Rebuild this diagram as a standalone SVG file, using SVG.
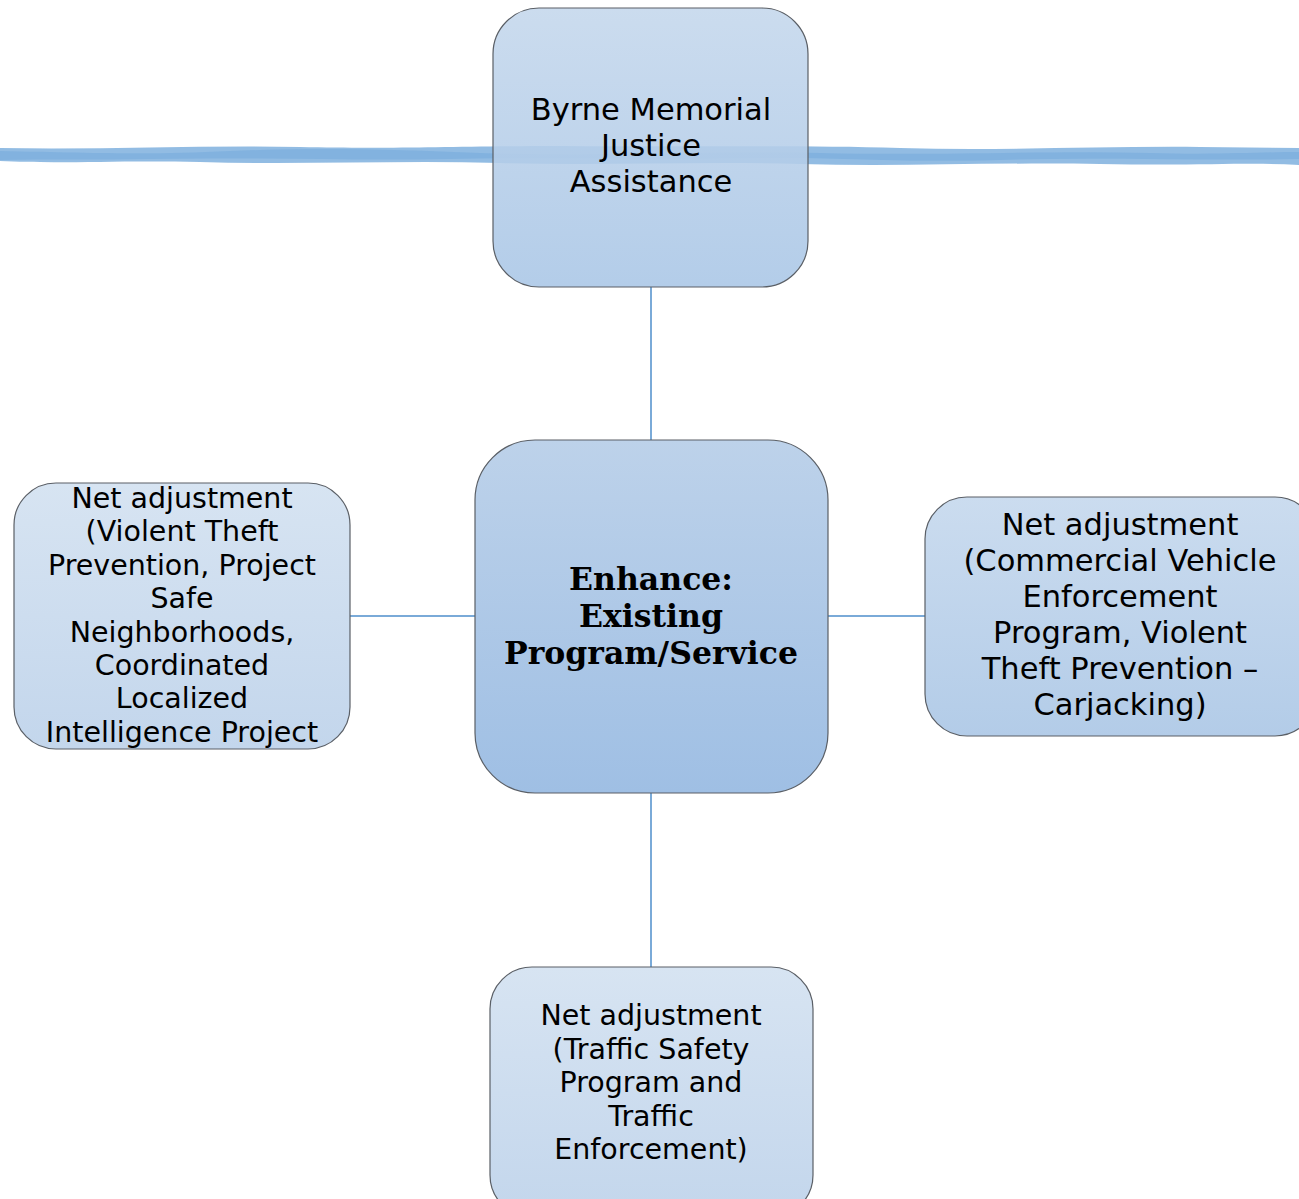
<svg xmlns="http://www.w3.org/2000/svg" width="1299" height="1199" viewBox="0 0 1299 1199">
<defs>
<linearGradient id="gTop" x1="0" y1="0" x2="0" y2="1"><stop offset="0" stop-color="#c4d7ec"/><stop offset="1" stop-color="#a9c6e6"/></linearGradient>
<linearGradient id="gMid" x1="0" y1="0" x2="0" y2="1"><stop offset="0" stop-color="#bdd2ea"/><stop offset="1" stop-color="#9fbfe4"/></linearGradient>
<linearGradient id="gSide" x1="0" y1="0" x2="0" y2="1"><stop offset="0" stop-color="#d7e4f2"/><stop offset="1" stop-color="#c3d6ec"/></linearGradient>
<linearGradient id="gRight" x1="0" y1="0" x2="0" y2="1"><stop offset="0" stop-color="#cbdcef"/><stop offset="1" stop-color="#b3cce8"/></linearGradient>
<style>
.box{stroke:#5a5f66;stroke-width:1.2}
.t{font-family:"DejaVu Sans","Liberation Sans",sans-serif;font-size:30.5px;fill:#000;text-anchor:middle}
.s{font-size:28.5px}
.r{font-size:30.5px}
.b{font-family:"DejaVu Serif","Liberation Serif",serif;font-weight:bold;font-size:31.5px;fill:#000;text-anchor:middle}
.c{stroke:#7aaad8;stroke-width:2;fill:none}
.w{fill:#7fb0de;opacity:0.85}
</style>
</defs>
<rect width="1299" height="1199" fill="#fff"/>
<g id="wave">
<path class="w" d="M0,148 C100,150 200,145 300,147 C400,149 450,146 560,146 C700,147 800,145 900,148 C1000,151 1100,146 1200,147 L1299,148 L1299,159 C1200,161 1100,157 1000,160 C900,163 850,157 760,158 C650,160 550,157 450,159 C350,161 250,157 150,159 C100,160 50,159 0,160 Z"/>
<path class="w" d="M0,151 C100,153 150,155 230,151 C330,147 400,150 480,153 C600,157 700,151 820,153 C950,156 1050,150 1150,153 C1220,155 1260,152 1299,152 L1299,165 C1250,162 1200,166 1100,164 C1000,162 900,167 800,164 C700,161 600,166 500,163 C400,160 300,165 200,162 C120,160 60,164 0,161 Z"/>
</g>
<g id="connectors">
<line class="c" x1="651" y1="287" x2="651" y2="440"/>
<line class="c" x1="651" y1="793" x2="651" y2="967"/>
<line class="c" x1="350" y1="616" x2="475" y2="616"/>
<line class="c" x1="828" y1="616" x2="925" y2="616"/>
</g>
<g id="node-top">
<rect class="box" x="493" y="8" width="315" height="279" rx="46" fill="url(#gTop)" fill-opacity="0.88"/>
<text class="t"><tspan x="651" y="120">Byrne Memorial</tspan><tspan x="651" y="156">Justice</tspan><tspan x="651" y="192">Assistance</tspan></text>
</g>
<g id="node-center">
<rect class="box" x="475" y="440" width="353" height="353" rx="60" fill="url(#gMid)"/>
<text class="b"><tspan x="651" y="590">Enhance:</tspan><tspan x="651" y="627">Existing</tspan><tspan x="651" y="664">Program/Service</tspan></text>
</g>
<g id="node-left">
<rect class="box" x="14" y="483" width="336" height="266" rx="42" fill="url(#gSide)"/>
<text class="t s"><tspan x="182" y="508">Net adjustment</tspan><tspan x="182" y="541.4">(Violent Theft</tspan><tspan x="182" y="574.8">Prevention, Project</tspan><tspan x="182" y="608.2">Safe</tspan><tspan x="182" y="641.6">Neighborhoods,</tspan><tspan x="182" y="675">Coordinated</tspan><tspan x="182" y="708.4">Localized</tspan><tspan x="182" y="741.8">Intelligence Project</tspan></text>
</g>
<g id="node-right">
<rect class="box" x="925" y="497" width="392" height="239" rx="42" fill="url(#gRight)"/>
<text class="t r"><tspan x="1120" y="535">Net adjustment</tspan><tspan x="1120" y="571">(Commercial Vehicle</tspan><tspan x="1120" y="607">Enforcement</tspan><tspan x="1120" y="643">Program, Violent</tspan><tspan x="1120" y="679">Theft Prevention –</tspan><tspan x="1120" y="715">Carjacking)</tspan></text>
</g>
<g id="node-bottom">
<rect class="box" x="490" y="967" width="323" height="250" rx="42" fill="url(#gSide)"/>
<text class="t s"><tspan x="651" y="1025">Net adjustment</tspan><tspan x="651" y="1058.5">(Traffic Safety</tspan><tspan x="651" y="1092">Program and</tspan><tspan x="651" y="1125.5">Traffic</tspan><tspan x="651" y="1159">Enforcement)</tspan></text>
</g>
</svg>
